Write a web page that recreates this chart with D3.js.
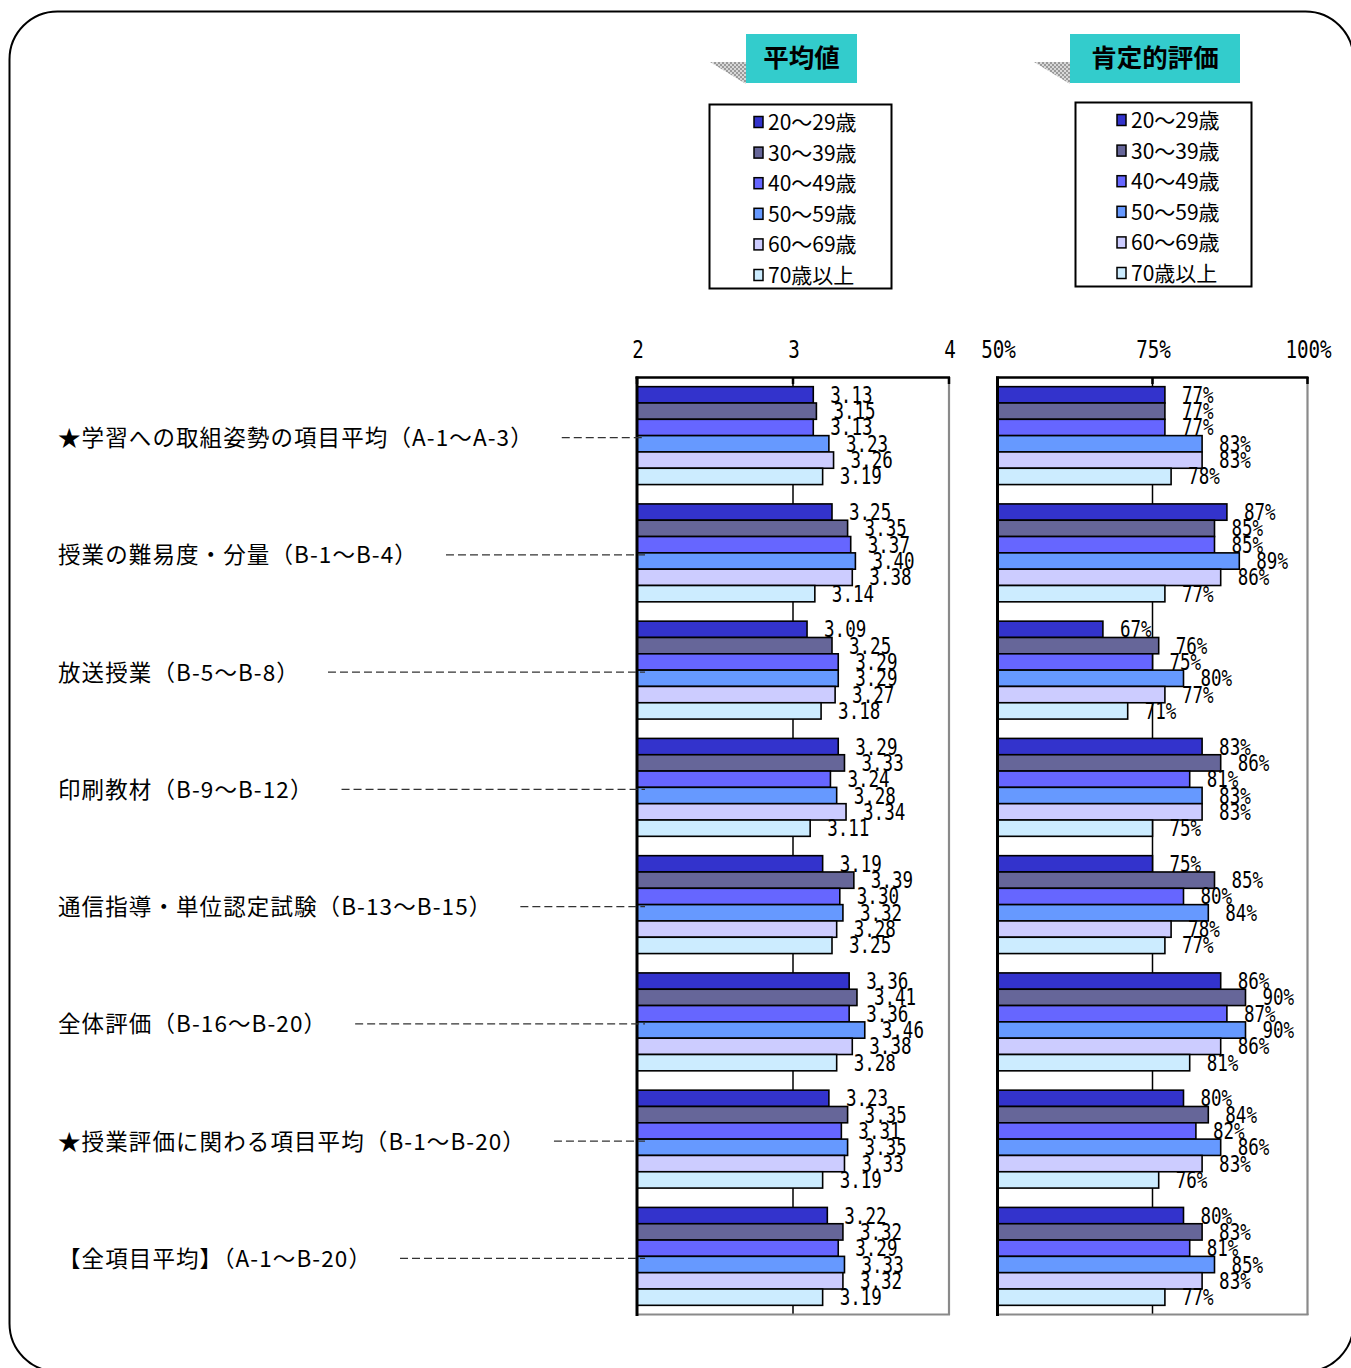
<!DOCTYPE html>
<html><head><meta charset="utf-8">
<script src="https://cdn.jsdelivr.net/npm/d3@7"></script>
<style>
html,body{margin:0;padding:0;background:#fff;}
svg{display:block;}
</style></head>
<body>
<script>
const categories = [
  "★学習への取組姿勢の項目平均（A-1～A-3）",
  "授業の難易度・分量（B-1～B-4）",
  "放送授業（B-5～B-8）",
  "印刷教材（B-9～B-12）",
  "通信指導・単位認定試験（B-13～B-15）",
  "全体評価（B-16～B-20）",
  "★授業評価に関わる項目平均（B-1～B-20）",
  "【全項目平均】（A-1～B-20）"
];
const seriesNames = ["20～29歳","30～39歳","40～49歳","50～59歳","60～69歳","70歳以上"];
const seriesColors = ["#3333CC","#666699","#6666FF","#6699FF","#CCCCFF","#CCECFF"];

// 平均値 (mean score) per age group, one value per category
const mean20 = [3.13,3.25,3.09,3.29,3.19,3.36,3.23,3.22];
const mean30 = [3.15,3.35,3.25,3.33,3.39,3.41,3.35,3.32];
const mean40 = [3.13,3.37,3.29,3.24,3.30,3.36,3.31,3.29];
const mean50 = [3.23,3.40,3.29,3.28,3.32,3.46,3.35,3.33];
const mean60 = [3.26,3.38,3.27,3.34,3.28,3.38,3.33,3.32];
const mean70 = [3.19,3.14,3.18,3.11,3.25,3.28,3.19,3.19];

// 肯定的評価 (% positive) per age group, one value per category
const pos20 = [77,87,67,83,75,86,80,80];
const pos30 = [77,85,76,86,85,90,84,83];
const pos40 = [77,85,75,81,80,87,82,81];
const pos50 = [83,89,80,83,84,90,86,85];
const pos60 = [83,86,77,83,78,86,83,83];
const pos70 = [78,77,71,75,77,81,76,77];

const meanTicks = [2,3,4];
const posTicks = [50,75,100];
const meanTitle = "平均値";
const posTitle = "肯定的評価";

const meanSeries = [mean20,mean30,mean40,mean50,mean60,mean70];
const posSeries = [pos20,pos30,pos40,pos50,pos60,pos70];

const W = 1351, H = 1368;
const svg = d3.select("body").append("svg").attr("width",W).attr("height",H);

// hatch pattern for title shadows
const defs = svg.append("defs");
const pat = defs.append("pattern").attr("id","hatch").attr("width",4).attr("height",4).attr("patternUnits","userSpaceOnUse");
pat.append("rect").attr("width",4).attr("height",4).attr("fill","#d8d8d8");
pat.append("rect").attr("width",2).attr("height",2).attr("fill","#9a9a9a");
pat.append("rect").attr("x",2).attr("y",2).attr("width",2).attr("height",2).attr("fill","#9a9a9a");

// outer rounded frame
svg.append("rect").attr("x",9.5).attr("y",11.5).attr("width",1344).attr("height",1360)
  .attr("rx",48).attr("ry",48).attr("fill","none").attr("stroke","#000").attr("stroke-width",2);

const plotTop = 377, plotBottom = 1315;
const y = d3.scaleBand().domain(categories).range([plotTop, plotBottom]).paddingInner(0.165).paddingOuter(0.0825);
const sub = d3.scaleBand().domain(d3.range(seriesNames.length)).range([0, y.bandwidth()]);

const xMean = d3.scaleLinear().domain([2,4]).range([637,949]);
const xPos = d3.scaleLinear().domain([50,100]).range([997.5,1307.5]);

const numFont = "'DejaVu Sans Mono', 'Liberation Mono', monospace";
const cjkFont = "'Noto Sans CJK JP', 'Noto Sans', sans-serif";

function panel(x, series, ticks, tickFmt, valFmt) {
  const g = svg.append("g");
  const [x0, x1] = x.range();
  // gridlines at interior ticks
  ticks.slice(1, -1).forEach(t => {
    g.append("line").attr("x1",x(t)).attr("x2",x(t)).attr("y1",plotTop).attr("y2",plotBottom)
      .attr("stroke","#000").attr("stroke-width",1.5);
  });
  // right & bottom border (gray)
  g.append("line").attr("x1",x1).attr("x2",x1).attr("y1",plotTop).attr("y2",plotBottom)
    .attr("stroke","#8a8a8a").attr("stroke-width",2.2);
  g.append("line").attr("x1",x0).attr("x2",x1+1).attr("y1",plotBottom-0.5).attr("y2",plotBottom-0.5)
    .attr("stroke","#8a8a8a").attr("stroke-width",2);
  // top axis line with ticks
  g.append("line").attr("x1",x0-1.5).attr("x2",x1+1).attr("y1",plotTop+0.5).attr("y2",plotTop+0.5)
    .attr("stroke","#000").attr("stroke-width",2.5);
  ticks.forEach(t => {
    g.append("line").attr("x1",x(t)).attr("x2",x(t)).attr("y1",plotTop).attr("y2",plotTop+7)
      .attr("stroke","#000").attr("stroke-width",2.5);
  });
  // tick labels
  ticks.forEach(t => {
    g.append("g").attr("transform",`translate(${x(t)+1},358) scale(0.8,1)`)
      .append("text").attr("text-anchor","middle").attr("font-family",numFont).attr("font-size",24)
      .attr("fill","#000").text(tickFmt(t));
  });
  // bars
  series.forEach((vals, si) => {
    g.selectAll(null).data(vals).enter().append("rect")
      .attr("x", x0)
      .attr("y", (d,i) => y(categories[i]) + sub(si))
      .attr("width", d => x(d) - x0)
      .attr("height", sub.bandwidth())
      .attr("fill", seriesColors[si])
      .attr("stroke","#000").attr("stroke-width",1.6);
  });
  // left axis line
  g.append("line").attr("x1",x0).attr("x2",x0).attr("y1",plotTop-0.5).attr("y2",plotBottom+1)
    .attr("stroke","#000").attr("stroke-width",3);
  // value labels
  series.forEach((vals, si) => {
    vals.forEach((v, i) => {
      const cy = y(categories[i]) + sub(si) + sub.bandwidth()/2;
      g.append("g").attr("transform",`translate(${x(v)+17},${cy+8}) scale(0.78,1)`)
        .append("text").attr("font-family",numFont).attr("font-size",22.5)
        .attr("fill","#000").text(valFmt(v));
    });
  });
}

panel(xMean, meanSeries, meanTicks, d => String(d), d => d.toFixed(2));
panel(xPos, posSeries, posTicks, d => d + "%", d => Math.round(d) + "%");

// category labels with dashed leaders
categories.forEach((c) => {
  const cy = y(c) + y.bandwidth()/2 + 2;
  const t = svg.append("text").attr("x",58).attr("y",cy+8.5)
    .attr("font-family",cjkFont).attr("font-size",22.5).attr("letter-spacing",1.1)
    .attr("fill","#000").text(c);
  const bb = t.node().getBBox();
  svg.append("line").attr("x1",bb.x+bb.width+28).attr("x2",645).attr("y1",cy).attr("y2",cy)
    .attr("stroke","#333").attr("stroke-width",1.3).attr("stroke-dasharray","8,4");
});

// titles & legends
function titleBox(bx, bw, label) {
  const g = svg.append("g");
  g.append("polygon").attr("points",`${bx-36},62 ${bx},62 ${bx},84`).attr("fill","url(#hatch)");
  g.append("rect").attr("x",bx).attr("y",34).attr("width",bw).attr("height",49).attr("fill","#33CCCC");
  g.append("text").attr("x",bx+bw/2).attr("y",67).attr("text-anchor","middle")
    .attr("font-family",cjkFont).attr("font-weight",700).attr("font-size",25.5).attr("fill","#000").text(label);
}
titleBox(746, 111, meanTitle);
titleBox(1070, 170, posTitle);

function legend(lx, ly, lw, lh, mx, firstRow) {
  const g = svg.append("g");
  g.append("rect").attr("x",lx).attr("y",ly).attr("width",lw).attr("height",lh)
    .attr("fill","#fff").attr("stroke","#000").attr("stroke-width",2);
  const rowStep = 30.6;
  seriesNames.forEach((s, i) => {
    const cy = firstRow + i*rowStep;
    g.append("rect").attr("x",mx).attr("y",cy-5.5).attr("width",9).attr("height",11)
      .attr("fill",seriesColors[i]).attr("stroke","#000").attr("stroke-width",1.5);
    g.append("text").attr("x",mx+14).attr("y",cy+8).attr("font-family",cjkFont).attr("font-size",21)
      .attr("fill","#000").text(s);
  });
}
legend(709.5, 104.5, 182, 184, 754, 122);
legend(1075.5, 102.5, 176, 184, 1117, 120);
</script>
</body></html>
